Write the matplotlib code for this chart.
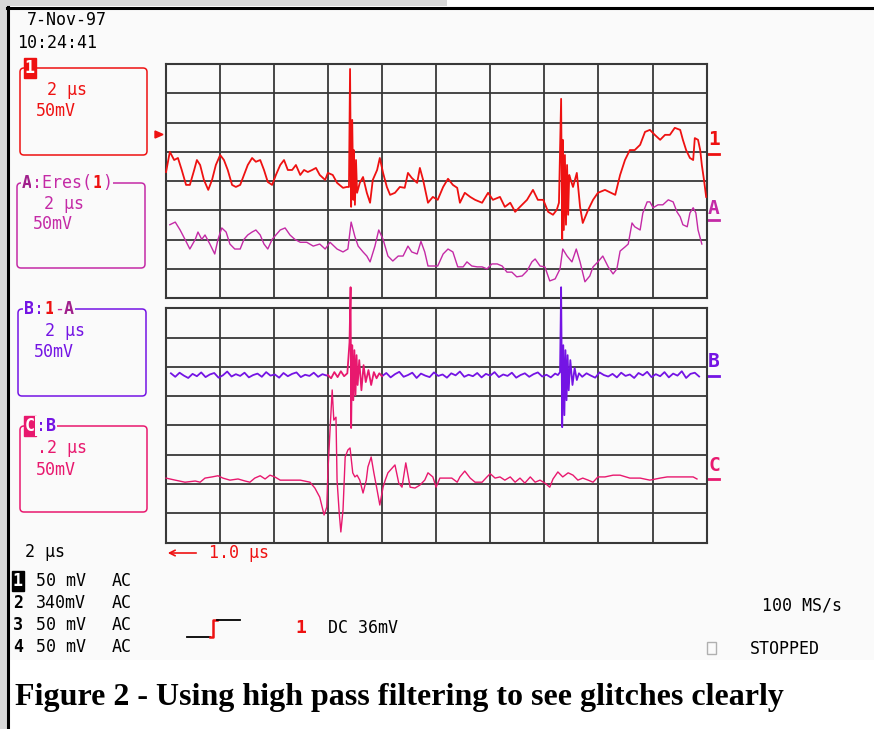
import matplotlib.pyplot as plt
from matplotlib.patches import Rectangle, FancyBboxPatch, Polygon

# ---- trace data, screen divisions (x: 0..10 div, y: -4..4 div from panel centre)
ch1_pts = [(0.01, 0.31), (0.08, 1.00), (0.16, 0.72), (0.23, 0.79), (0.30, 0.38), (0.38, -0.13),
           (0.45, -0.13), (0.53, 0.38), (0.58, 0.72), (0.64, 0.55), (0.71, 0.04), (0.79, -0.30),
           (0.86, 0.04), (0.93, 0.55), (1.01, 0.89), (1.08, 0.72), (1.15, 0.38), (1.23, -0.13),
           (1.30, -0.20), (1.38, -0.13), (1.45, 0.21), (1.52, 0.55), (1.60, 0.79), (1.67, 0.66),
           (1.75, 0.72), (1.82, 0.38), (1.89, -0.03), (1.97, -0.13), (2.04, 0.21), (2.12, 0.55),
           (2.19, 0.72), (2.26, 0.38), (2.34, 0.38), (2.41, 0.55), (2.49, 0.21), (2.56, 0.38),
           (2.63, 0.31), (2.71, 0.38), (2.78, 0.45), (2.85, 0.21), (2.95, 0.04), (3.00, 0.28),
           (3.09, 0.21), (3.17, -0.06), (3.28, -0.23), (3.35, -0.20), (3.39, -0.20), (3.41, 3.83),
           (3.43, -0.88), (3.45, 2.09), (3.47, -0.64), (3.48, 1.06), (3.50, -0.81), (3.52, 0.72),
           (3.54, -0.40), (3.59, -0.06), (3.65, 0.14), (3.72, -0.40), (3.78, -0.74), (3.83, 0.04),
           (3.91, 0.38), (3.96, 0.79), (4.02, 0.28), (4.09, -0.20), (4.15, -0.47), (4.24, -0.40),
           (4.33, -0.20), (4.42, -0.23), (4.48, 0.28), (4.55, 0.11), (4.65, -0.06), (4.70, 0.45),
           (4.76, 0.04), (4.85, -0.74), (4.94, -0.54), (5.03, -0.64), (5.13, -0.20), (5.22, 0.08),
           (5.31, -0.13), (5.39, -0.23), (5.44, -0.74), (5.53, -0.40), (5.63, -0.54), (5.72, -0.64),
           (5.85, -0.74), (5.96, -0.40), (6.05, -0.64), (6.18, -0.54), (6.27, -0.88), (6.37, -0.74),
           (6.46, -1.05), (6.55, -0.88), (6.68, -0.64), (6.79, -0.30), (6.88, -0.64), (6.98, -0.64),
           (7.07, -1.05), (7.16, -1.15), (7.23, -0.98), (7.27, -0.74), (7.31, 2.81), (7.33, -1.99),
           (7.34, 1.41), (7.36, -1.67), (7.38, 0.89), (7.40, -1.49), (7.42, 0.55), (7.44, -1.15),
           (7.46, 0.21), (7.47, 0.14), (7.53, -0.20), (7.60, 0.28), (7.66, -0.88), (7.71, -1.43),
           (7.81, -0.98), (7.90, -0.64), (7.99, -0.40), (8.12, -0.30), (8.31, -0.47), (8.40, 0.21),
           (8.49, 0.72), (8.58, 1.06), (8.67, 1.06), (8.77, 1.24), (8.86, 1.68), (8.95, 1.75),
           (9.04, 1.58), (9.14, 1.41), (9.23, 1.58), (9.32, 1.58), (9.41, 1.82), (9.51, 1.75),
           (9.56, 1.41), (9.62, 1.06), (9.69, 0.79), (9.75, 0.72), (9.78, 1.47), (9.84, 1.41),
           (9.88, 1.06), (9.91, 0.55), (9.95, 0.04), (9.99, -0.54)]

chA_pts = [(0.08, -1.49), (0.18, -1.40), (0.27, -1.67), (0.36, -1.99), (0.45, -2.32), (0.55, -1.99),
           (0.60, -1.74), (0.67, -1.99), (0.73, -1.84), (0.82, -2.15), (0.91, -2.49), (0.97, -1.99),
           (1.04, -1.60), (1.12, -1.74), (1.19, -2.15), (1.28, -2.32), (1.38, -2.32), (1.45, -1.99),
           (1.52, -1.84), (1.60, -1.74), (1.67, -1.67), (1.75, -1.84), (1.82, -2.15), (1.89, -2.32),
           (1.97, -1.99), (2.04, -1.84), (2.12, -1.67), (2.21, -1.60), (2.30, -1.84), (2.39, -1.99),
           (2.49, -2.09), (2.61, -2.09), (2.73, -2.22), (2.85, -2.15), (2.95, -2.32), (3.04, -2.09),
           (3.17, -2.32), (3.28, -2.42), (3.37, -2.32), (3.43, -1.40), (3.50, -1.90), (3.56, -2.22),
           (3.65, -2.42), (3.72, -2.56), (3.78, -2.76), (3.87, -2.22), (3.94, -1.67), (4.02, -1.99),
           (4.11, -2.56), (4.20, -2.73), (4.30, -2.56), (4.39, -2.56), (4.48, -2.22), (4.55, -2.42),
           (4.65, -2.49), (4.72, -2.06), (4.79, -2.42), (4.85, -2.90), (4.94, -2.90), (5.03, -2.90),
           (5.13, -2.49), (5.22, -2.32), (5.31, -2.42), (5.40, -2.93), (5.50, -2.93), (5.57, -2.76),
           (5.66, -2.90), (5.76, -2.93), (5.85, -2.93), (5.94, -3.00), (6.03, -2.83), (6.13, -2.83),
           (6.22, -2.90), (6.31, -3.11), (6.40, -3.11), (6.49, -3.27), (6.59, -3.24), (6.68, -3.07),
           (6.77, -2.76), (6.83, -2.66), (6.92, -2.90), (7.01, -2.93), (7.10, -3.41), (7.20, -3.34),
           (7.29, -3.00), (7.34, -2.32), (7.42, -2.56), (7.51, -2.76), (7.59, -2.32), (7.66, -2.76),
           (7.75, -3.44), (7.84, -3.24), (7.90, -2.93), (7.99, -2.76), (8.08, -2.56), (8.18, -2.93),
           (8.27, -3.17), (8.34, -3.00), (8.40, -2.39), (8.49, -2.25), (8.55, -2.15), (8.62, -1.43),
           (8.67, -1.56), (8.77, -1.67), (8.82, -1.09), (8.90, -0.71), (8.95, -0.71), (9.01, -0.91),
           (9.10, -0.81), (9.19, -0.81), (9.29, -0.64), (9.38, -0.71), (9.45, -1.05), (9.51, -1.22),
           (9.56, -1.49), (9.64, -1.56), (9.69, -1.09), (9.75, -0.91), (9.80, -1.09), (9.84, -1.67),
           (9.91, -2.15)]

# B = 1 - A, before / inside / after the zoom window (inside is drawn in C colour)
chB_pre = [(0.10, 1.78), (0.18, 1.66), (0.26, 1.80), (0.34, 1.70), (0.42, 1.62), (0.50, 1.76),
           (0.58, 1.68), (0.66, 1.81), (0.74, 1.65), (0.82, 1.74), (0.90, 1.79), (0.98, 1.63),
           (1.06, 1.71), (1.14, 1.84), (1.22, 1.67), (1.30, 1.75), (1.38, 1.69), (1.46, 1.80),
           (1.54, 1.64), (1.62, 1.72), (1.70, 1.77), (1.78, 1.66), (1.86, 1.82), (1.94, 1.70),
           (2.02, 1.74), (2.10, 1.63), (2.18, 1.79), (2.26, 1.68), (2.34, 1.76), (2.42, 1.81),
           (2.50, 1.65), (2.58, 1.73), (2.66, 1.69), (2.74, 1.80), (2.82, 1.66), (2.90, 1.75),
           (2.98, 1.70), (3.00, 1.72)]
chB_zoom = [(3.00, 1.72), (3.06, 1.61), (3.12, 1.82), (3.18, 1.65), (3.24, 1.85), (3.30, 1.68),
            (3.36, 1.78), (3.40, 2.84), (3.42, 4.72), (3.43, -0.09), (3.45, 2.74), (3.47, 0.86),
            (3.49, 2.57), (3.51, 1.03), (3.53, 2.40), (3.55, 1.38), (3.58, 2.23), (3.62, 1.20),
            (3.66, 2.06), (3.70, 1.48), (3.75, 1.89), (3.80, 1.38), (3.85, 1.82), (3.90, 1.61),
            (3.95, 1.78), (4.00, 1.68)]
chB_post = [(4.00, 1.68), (4.08, 1.79), (4.16, 1.64), (4.24, 1.75), (4.32, 1.83), (4.40, 1.66),
            (4.48, 1.72), (4.56, 1.80), (4.64, 1.62), (4.72, 1.77), (4.80, 1.70), (4.88, 1.65),
            (4.96, 1.81), (5.04, 1.69), (5.12, 1.74), (5.20, 1.63), (5.28, 1.78), (5.36, 1.71),
            (5.44, 1.84), (5.52, 1.66), (5.60, 1.73), (5.68, 1.68), (5.76, 1.79), (5.84, 1.64),
            (5.92, 1.76), (6.00, 1.70), (6.08, 1.82), (6.16, 1.65), (6.24, 1.74), (6.32, 1.69),
            (6.40, 1.80), (6.48, 1.63), (6.56, 1.72), (6.64, 1.78), (6.72, 1.66), (6.80, 1.75),
            (6.88, 1.81), (6.96, 1.67), (7.04, 1.73), (7.12, 1.64), (7.20, 1.77), (7.25, 1.72),
            (7.29, 1.82), (7.31, 4.72), (7.33, -0.06), (7.35, 2.74), (7.37, 0.35), (7.39, 2.57),
            (7.41, 0.86), (7.43, 2.40), (7.45, 1.20), (7.48, 2.23), (7.52, 1.38), (7.56, 1.96),
            (7.60, 1.55), (7.64, 1.78), (7.70, 1.66), (7.78, 1.78), (7.86, 1.70), (7.94, 1.63),
            (8.02, 1.81), (8.10, 1.72), (8.18, 1.67), (8.26, 1.76), (8.34, 1.64), (8.42, 1.80),
            (8.50, 1.69), (8.58, 1.74), (8.66, 1.62), (8.74, 1.79), (8.82, 1.71), (8.90, 1.83),
            (8.98, 1.65), (9.06, 1.75), (9.14, 1.68), (9.22, 1.82), (9.30, 1.64), (9.38, 1.77),
            (9.46, 1.70), (9.54, 1.85), (9.62, 1.62), (9.70, 1.76), (9.78, 1.80), (9.86, 1.67)]

chC_pts = [(0.01, -1.80), (0.18, -1.87), (0.36, -1.94), (0.55, -1.90), (0.64, -1.94), (0.73, -1.80),
           (0.86, -1.76), (0.97, -1.72), (1.06, -1.80), (1.19, -1.87), (1.34, -1.83), (1.47, -1.90),
           (1.56, -1.94), (1.65, -1.80), (1.75, -1.72), (1.84, -1.83), (1.93, -1.70), (2.02, -1.76),
           (2.12, -1.87), (2.30, -1.87), (2.49, -1.87), (2.67, -1.94), (2.76, -2.14), (2.85, -2.45),
           (2.93, -3.06), (2.98, -2.79), (3.00, -1.62), (3.04, -0.16), (3.08, 1.21), (3.11, 0.18),
           (3.15, 0.28), (3.17, -1.87), (3.21, -2.99), (3.24, -3.64), (3.28, -2.89), (3.32, -1.08),
           (3.37, -0.84), (3.41, -0.77), (3.46, -1.62), (3.50, -1.76), (3.54, -1.70), (3.59, -1.87),
           (3.65, -2.31), (3.71, -1.87), (3.74, -1.42), (3.80, -1.08), (3.85, -1.62), (3.91, -2.21),
           (3.96, -2.72), (4.02, -2.11), (4.06, -1.87), (4.11, -1.62), (4.24, -1.35), (4.31, -1.97),
           (4.37, -2.11), (4.44, -1.28), (4.52, -2.11), (4.61, -2.14), (4.70, -2.04), (4.79, -1.87),
           (4.85, -1.62), (4.94, -1.76), (5.00, -2.11), (5.07, -1.80), (5.20, -1.80), (5.29, -1.80),
           (5.39, -1.94), (5.44, -1.76), (5.53, -1.56), (5.63, -1.80), (5.72, -1.94), (5.85, -1.94),
           (5.94, -1.76), (6.00, -1.65), (6.09, -1.80), (6.18, -1.76), (6.27, -1.87), (6.37, -1.76),
           (6.46, -1.94), (6.55, -1.80), (6.64, -1.97), (6.74, -1.76), (6.83, -1.94), (6.92, -1.87),
           (7.01, -1.97), (7.10, -2.11), (7.16, -1.83), (7.25, -1.59), (7.34, -1.76), (7.44, -1.62),
           (7.53, -1.70), (7.62, -1.87), (7.71, -1.80), (7.81, -1.87), (7.90, -1.94), (7.99, -1.76),
           (8.12, -1.76), (8.27, -1.70), (8.40, -1.70), (8.58, -1.80), (8.77, -1.80), (8.95, -1.87),
           (9.14, -1.80), (9.27, -1.76), (9.51, -1.76), (9.75, -1.76), (9.82, -1.83)]

channel_rows = [("1", "50 mV", "AC"), ("2", "340mV", "AC"), ("3", "50 mV", "AC"), ("4", "50 mV", "AC")]

RED = '#ee1111'
MAG = '#c42aa6'
MAG_DK = '#a0208c'
PUR = '#7414e4'
CRIM = '#e8186e'
GRID = '#383838'
SCREEN = '#fafafa'
MONO = ['DejaVu Sans Mono', 'DejaVu Sans']

W, H = 874, 729
fig = plt.figure(figsize=(W / 100, H / 100), dpi=100)
fig.patch.set_facecolor('white')

# full-figure layer in pixel units for frame, readouts and labels
bg = fig.add_axes([0, 0, 1, 1])
bg.set_xlim(0, W)
bg.set_ylim(H, 0)
bg.axis('off')
bg.add_patch(Rectangle((9, 9), W - 9, 651, facecolor=SCREEN, edgecolor='none'))
bg.add_patch(Rectangle((0, 0), 7, H, facecolor='#d8d8d8', edgecolor='none'))
bg.add_patch(Rectangle((0, 0), 447, 6, facecolor='#d8d8d8', edgecolor='none'))
bg.plot([8, 8], [7, H], color='black', lw=2.2)
bg.plot([7, W], [8, 8], color='black', lw=2.2)


def panel(top):
    ax = fig.add_axes([165.5 / W, 1 - (top + 234.2) / H, 541.2 / W, 234.2 / H])
    ax.set_xlim(0, 10)
    ax.set_ylim(-4, 4)
    ax.set_facecolor(SCREEN)
    ax.set_xticks(range(11))
    ax.set_yticks(range(-4, 5))
    ax.tick_params(length=0, labelbottom=False, labelleft=False)
    ax.grid(True, color=GRID, lw=1.3)
    for s in ax.spines.values():
        s.set_color(GRID)
        s.set_linewidth(1.5)
    return ax


def draw(ax, pts, color, lw, z=3):
    xs = [p[0] for p in pts]
    ys = [p[1] for p in pts]
    ax.plot(xs, ys, color=color, lw=lw, clip_on=False, zorder=z)


ax1 = panel(64)
ax2 = panel(308.3)
draw(ax1, chA_pts, MAG, 1.0)
draw(ax1, ch1_pts, RED, 1.3, 4)
draw(ax2, chC_pts, CRIM, 1.0)
draw(ax2, chB_pre, PUR, 1.3)
draw(ax2, chB_post, PUR, 1.3)
draw(ax2, chB_zoom, CRIM, 1.3, 4)


def mono(x, y, s, color='black', size=12, weight='normal', **kw):
    bg.text(x, y, s, color=color, fontsize=size, fontweight=weight, family=MONO,
            ha='left', va='center', **kw)


def inverse(x, y, s, color, size=12):
    bg.text(x, y, s, color='white', fontsize=size, fontweight='bold', family=MONO,
            ha='left', va='center',
            bbox=dict(boxstyle='square,pad=0.08', facecolor=color, edgecolor=color))


def trace_box(x0, y0, x1, y1, color):
    bg.add_patch(FancyBboxPatch((x0, y0), x1 - x0, y1 - y0, boxstyle='round,pad=0,rounding_size=4',
                                facecolor='none', edgecolor=color, lw=1.1))


def title(x, y, parts):
    cw = 10.03
    for s, color, weight in parts:
        bg.text(x, y, s, color=color, fontsize=12, fontweight=weight, family=MONO,
                ha='left', va='center',
                bbox=dict(boxstyle='square,pad=0.05', facecolor=SCREEN, edgecolor='none'))
        x += cw * len(s)


# date / time
mono(27, 20, '7-Nov-97')
mono(17, 43, '10:24:41')

# trace descriptor boxes
trace_box(20, 68, 147, 155, RED)
inverse(25, 68, '1', RED)
mono(47, 90, '2 µs', RED)
mono(36, 111, '50mV', RED)

trace_box(17, 183, 145, 268, MAG)
title(22, 183, [('A', MAG_DK, 'bold'), (':Eres(', MAG, 'normal'), ('1', RED, 'bold'), (')', MAG, 'normal')])
mono(44, 204, '2 µs', MAG)
mono(33, 224, '50mV', MAG)

trace_box(18, 309, 146, 396, PUR)
title(24, 309, [('B', PUR, 'bold'), (':', PUR, 'normal'), ('1', RED, 'bold'), ('-', MAG, 'normal'), ('A', MAG_DK, 'bold')])
mono(45, 331, '2 µs', PUR)
mono(34, 352, '50mV', PUR)

trace_box(20, 426, 147, 512, CRIM)
inverse(25, 426, 'C', CRIM)
title(36, 426, [(':', PUR, 'normal'), ('B', PUR, 'bold')])
mono(37, 448, '.2 µs', CRIM)
mono(36, 470, '50mV', CRIM)

# trace markers on the right edge and trigger level arrow
for label, y, color in [('1', 139, RED), ('A', 208, MAG), ('B', 361, PUR), ('C', 465, CRIM)]:
    mono(708, y, label, color, size=14, weight='bold')
for y, color in [(154, RED), (220, MAG), (376, PUR), (479, CRIM)]:
    bg.plot([707, 719], [y, y], color=color, lw=2)
bg.add_patch(Polygon([(155, 131), (155, 138), (163, 134.5)], closed=True, color=RED))

# time base readouts
mono(25, 552, '2 µs')
bg.annotate('', xy=(165, 553), xytext=(199, 553),
            arrowprops=dict(arrowstyle='->', color=RED, lw=1.2, mutation_scale=10))
mono(209, 553, '1.0 µs', RED)

for i, (num, volts, cpl) in enumerate(channel_rows):
    y = 581 + 22 * i
    if i == 0:
        inverse(13, y, num, 'black')
    else:
        mono(13, y, num, weight='bold')
    mono(36, y, volts)
    mono(112, y, cpl)

# trigger symbol
bg.plot([187, 210], [637, 637], color='black', lw=1.3)
bg.plot([210, 213, 213, 217], [637, 637, 620, 620], color=RED, lw=1.8)
bg.plot([217, 240], [620, 620], color='black', lw=1.3)
mono(295, 628, '1', RED, size=13, weight='bold')
mono(328, 628, 'DC 36mV')

mono(762, 605, '100 MS/s')
bg.add_patch(Rectangle((707, 642), 9, 12, facecolor='none', edgecolor='#b0b0b0', lw=1))
mono(750, 649, 'STOPPED')

bg.text(15, 697, 'Figure 2 - Using high pass filtering to see glitches clearly',
        fontsize=23, fontweight='bold', family='Liberation Serif', ha='left', va='center')

fig.savefig('out.png', dpi=100)
